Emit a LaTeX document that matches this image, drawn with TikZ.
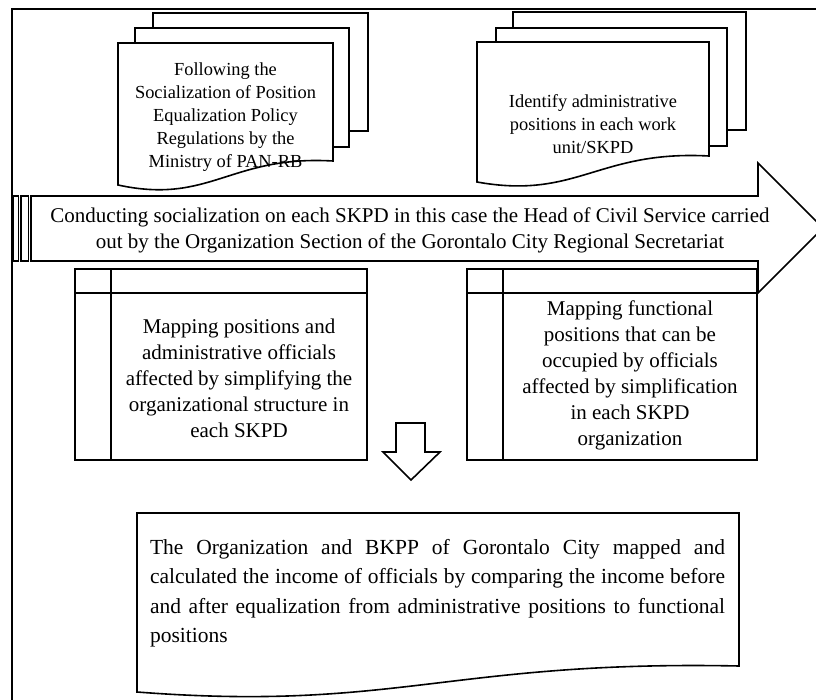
\documentclass[tikz,border=0pt]{standalone}
\usepackage{fontspec}
\setmainfont{Liberation Serif}
\begin{document}
\begin{tikzpicture}[x=1pt,y=-1pt,
  outl/.style={draw=black,line width=1.6pt,fill=white,line join=miter},
  ln/.style={draw=black,line width=1.6pt},
  doctext/.style={align=center,inner sep=0pt,font=\fontsize{18.4}{23}\selectfont},
  arrtext/.style={align=center,inner sep=0pt,font=\fontsize{21}{26}\selectfont},
  tabtext/.style={align=center,inner sep=0pt,font=\fontsize{21}{26}\selectfont},
  bottext/.style={align=justify,text width=575pt,inner sep=0pt,font=\fontsize{21.5}{29.5}\selectfont}]
\useasboundingbox (0,0) rectangle (816,700);
\clip (0,0) rectangle (816,700);
\fill[white] (0,0) rectangle (816,700);
% outer frame
\draw[ln] (12,9) rectangle (840,720);
% left document stack
\draw[outl] (153,13) rectangle (368,131);
\draw[outl] (135,28) rectangle (349,147);
\draw[outl] (118,43) -- (333,43) -- (333,161) .. controls (230,155) and (210,205) .. (118,185) -- cycle;
\node[doctext] (d1) at (225.5,117) {Following the\\Socialization of Position\\Equalization Policy\\Regulations by the\\Ministry of PAN-RB};
% right document stack
\draw[outl] (513,12) rectangle (746,130);
\draw[outl] (496,28) rectangle (727,146);
\draw[outl] (477,42) -- (709,42) -- (709,156) .. controls (598,150) and (577,200) .. (477,182) -- cycle;
\node[doctext] (d2) at (593,124) {Identify administrative\\positions in each work\\unit/SKPD};
% big arrow
\draw[outl] (13,196) rectangle (18.5,261);
\draw[outl] (21,196) rectangle (28.5,261);
\draw[outl] (31,196) -- (758,196) -- (758,163) -- (823,228) -- (758,293) -- (758,261) -- (31,261) -- cycle;
\node[arrtext] (a) at (410,230) {Conducting socialization on each SKPD in this case the Head of Civil Service carried\\out by the Organization Section of the Gorontalo City Regional Secretariat};
% left table
\draw[outl] (75,269) rectangle (367,460);
\draw[ln] (111,269) -- (111,460);
\draw[ln] (75,293) -- (367,293);
\node[tabtext] (t1) at (239,378) {Mapping positions and\\administrative officials\\affected by simplifying the\\organizational structure in\\each SKPD};
% right table
\draw[outl] (467,269) rectangle (757,460);
\draw[ln] (503,269) -- (503,460);
\draw[ln] (467,293) -- (757,293);
\node[tabtext] (t2) at (630,375) {Mapping functional\\positions that can be\\occupied by officials\\affected by simplification\\in each SKPD\\organization};
% down arrow
\draw[outl] (396,423) -- (425,423) -- (425,452) -- (440,452) -- (411,480) -- (383,452) -- (396,452) -- cycle;
% bottom document
\draw[outl] (137,513) -- (739,513) -- (739,666) .. controls (450,660) and (396,712) .. (137,692) -- cycle;
\node[bottext] (b) at (437.5,593) {\hyphenpenalty=10000 The Organization and BKPP of Gorontalo City mapped and\linebreak calculated the income of officials by comparing the income before\linebreak and after equalization from administrative positions to functional\linebreak positions};
\end{tikzpicture}
\end{document}
